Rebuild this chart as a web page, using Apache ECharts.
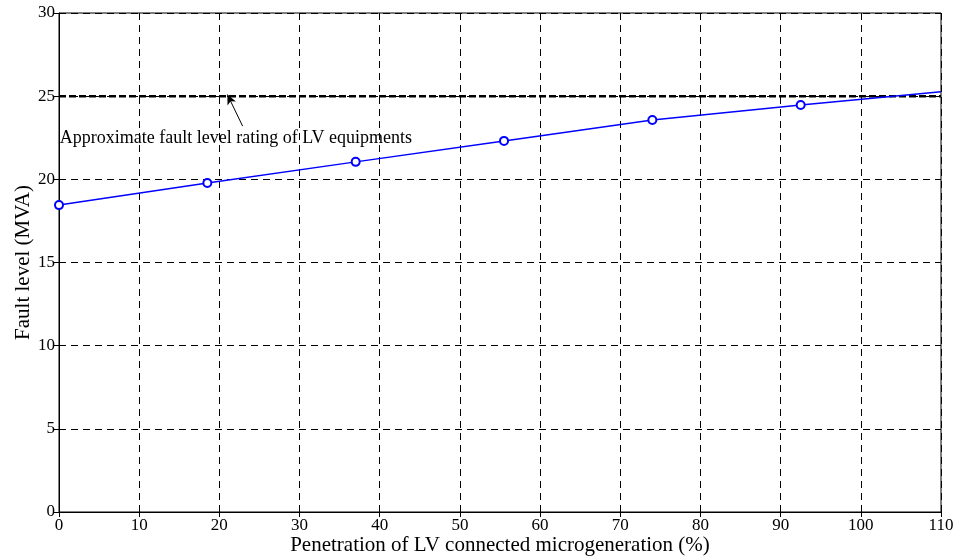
<!DOCTYPE html>
<html lang="en">
<head>
    <meta charset="UTF-8">
    <title>Fault level</title>
    <script src="https://cdn.jsdelivr.net/npm/echarts@6/dist/echarts.min.js"></script>
    <style>
        body { margin: 0; background: #fff; }
        #main { width: 958px; height: 558px; }
    </style>
</head>
<body>
<div id="main"></div>
<script type="text/javascript">
// penetration (%) and fault level (MVA)
var penetration = [0, 18.5, 37, 55.5, 74, 92.5, 110];
var faultLevel = [18.45, 19.78, 21.05, 22.31, 23.57, 24.47, 25.27];
var ratingLevel = 25;
var xTicks = [0, 10, 20, 30, 40, 50, 60, 70, 80, 90, 100, 110];
var yTicks = [0, 5, 10, 15, 20, 25, 30];
var noteText = 'Approximate fault level rating of LV equipments';
var notePos = [0.1, 22.45];
var arrowFrom = [22.9, 23.2];
var arrowTo = [21.0, 25.1];

var font = '"Liberation Serif", "Times New Roman", serif';

var lineData = [];
for (var i = 0; i < penetration.length; i++) {
    var item = { value: [penetration[i], faultLevel[i]] };
    if (i == penetration.length - 1) item.symbol = 'none';
    lineData.push(item);
}

var gridDash = { color: '#000', width: 1, type: [7, 5] };

var myChart = echarts.init(document.getElementById('main'));
myChart.setOption({
    animation: false,
    grid: {
        left: 59, right: 17, top: 13, bottom: 46,
        outerBoundsMode: 'none', containLabel: false,
        show: true, borderColor: '#000', borderWidth: 1
    },
    xAxis: [{
        type: 'value',
        min: xTicks[0], max: xTicks[xTicks.length - 1], interval: 10,
        name: 'Penetration of LV connected microgeneration (%)',
        nameLocation: 'middle', nameGap: 23, nameMoveOverlap: false,
        nameTextStyle: { fontFamily: font, fontSize: 21, color: '#000' },
        axisLine: { show: true, lineStyle: { color: '#000', width: 1 } },
        axisTick: { show: true, inside: true, length: 5, lineStyle: { color: '#000' } },
        axisLabel: { fontFamily: font, fontSize: 17, color: '#000', margin: 5 },
        splitLine: { show: true, lineStyle: gridDash }
    }, {
        type: 'value', position: 'top',
        min: xTicks[0], max: xTicks[xTicks.length - 1], interval: 10,
        axisLine: { show: false },
        axisTick: { show: true, inside: true, length: 5, lineStyle: { color: '#000' } },
        axisLabel: { show: false }, splitLine: { show: false }
    }],
    yAxis: [{
        type: 'value',
        min: yTicks[0], max: yTicks[yTicks.length - 1], interval: 5,
        name: 'Fault level (MVA)',
        nameLocation: 'middle', nameGap: 25, nameMoveOverlap: false,
        nameTextStyle: { fontFamily: font, fontSize: 21, color: '#000' },
        axisLine: { show: true, lineStyle: { color: '#000', width: 1 } },
        axisTick: { show: true, inside: true, length: 5, lineStyle: { color: '#000' } },
        axisLabel: { fontFamily: font, fontSize: 17, color: '#000', margin: 4 },
        splitLine: { show: true, lineStyle: gridDash }
    }, {
        type: 'value', position: 'right',
        min: yTicks[0], max: yTicks[yTicks.length - 1], interval: 5,
        axisLine: { show: false },
        axisTick: { show: true, inside: true, length: 5, lineStyle: { color: '#000' } },
        axisLabel: { show: false }, splitLine: { show: false }
    }],
    series: [{
        type: 'line',
        data: [[xTicks[0], ratingLevel], [xTicks[xTicks.length - 1], ratingLevel]],
        symbol: 'none',
        lineStyle: { color: '#000', width: 2.5, type: [7, 3] },
        z: 3,
        markLine: {
            silent: true,
            symbol: ['none', 'arrow'],
            symbolSize: [7, 10],
            lineStyle: { color: '#000', width: 1, type: 'solid' },
            label: { show: false },
            data: [[{ coord: arrowFrom }, { coord: arrowTo }]]
        },
        markPoint: {
            silent: true,
            symbol: 'circle', symbolSize: 0,
            label: {
                show: true, position: 'right', distance: 0,
                formatter: noteText,
                fontFamily: font, fontSize: 18, color: '#000'
            },
            data: [{ coord: notePos }]
        }
    }, {
        type: 'line',
        data: lineData,
        symbol: 'emptyCircle',
        symbolSize: 8,
        itemStyle: { color: '#0000ff', borderWidth: 1 },
        lineStyle: { color: '#0000ff', width: 1.5 },
        z: 4
    }]
});
</script>
</body>
</html>
